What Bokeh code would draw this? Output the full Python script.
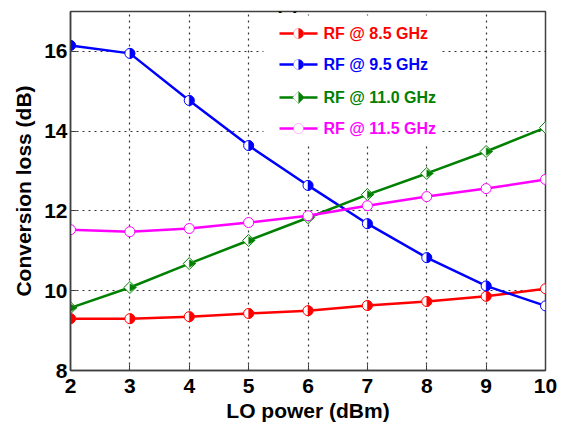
import math
from bokeh.plotting import figure
from bokeh.models import (Range1d, FixedTicker, BoxAnnotation, PolyAnnotation,
                          Label, ColumnDataSource)
from bokeh.transform import dodge
from bokeh.embed import file_html
from bokeh.resources import INLINE

# ---- data ----
lo_power = [2, 3, 4, 5, 6, 7, 8, 9, 10]
cl_8p5 = [9.30, 9.30, 9.35, 9.43, 9.50, 9.63, 9.73, 9.86, 10.05]
cl_9p5 = [16.15, 15.95, 14.77, 13.64, 12.64, 11.68, 10.83, 10.12, 9.62]
cl_11p0 = [9.57, 10.08, 10.68, 11.26, 11.83, 12.41, 12.94, 13.49, 14.09]
cl_11p5 = [11.53, 11.48, 11.56, 11.71, 11.88, 12.13, 12.36, 12.56, 12.79]
labels = ["RF @ 8.5 GHz", "RF @ 9.5 GHz", "RF @ 11.0 GHz", "RF @ 11.5 GHz"]
y_ticks = [8, 10, 12, 14, 16]
x_ticks = [2, 3, 4, 5, 6, 7, 8, 9, 10]

colors = ["#ff0000", "#0000ff", "#008000", "#ff00ff"]
markers = ["half_circle", "half_circle", "half_diamond", "open_circle"]
series = [cl_8p5, cl_9p5, cl_11p0, cl_11p5]

FONT = "Liberation Sans"
AX = "#404040"

p = figure(frame_width=475, frame_height=359,
           min_border_left=70, min_border_right=21,
           min_border_top=11, min_border_bottom=57,
           x_range=Range1d(2, 10), y_range=Range1d(8, 17),
           output_backend="svg", toolbar_location=None)
p.background_fill_color = "white"
p.border_fill_color = "white"
p.outline_line_color = AX
p.outline_line_width = 1.5

for ax in (p.xaxis[0], p.yaxis[0]):
    ax.axis_line_color = AX
    ax.axis_line_width = 1.5
    ax.major_tick_in = 6
    ax.major_tick_out = 0
    ax.minor_tick_line_color = None
    ax.major_tick_line_color = AX
    ax.major_label_text_font = FONT
    ax.major_label_text_font_style = "bold"
    ax.major_label_text_font_size = "21px"
    ax.major_label_text_color = "black"
    ax.axis_label_text_font = FONT
    ax.axis_label_text_font_style = "bold"
    ax.axis_label_text_font_size = "21px"
    ax.axis_label_text_color = "black"

p.xaxis.ticker = FixedTicker(ticks=x_ticks)
p.yaxis.ticker = FixedTicker(ticks=y_ticks)
p.xaxis.axis_label = "LO power (dBm)"
p.yaxis.axis_label = "Conversion loss (dB)"
p.xaxis.major_label_standoff = 8
p.yaxis.major_label_standoff = 3
p.xaxis.axis_label_standoff = 3
p.yaxis.axis_label_standoff = 6

p.xgrid.ticker = FixedTicker(ticks=x_ticks)
p.ygrid.ticker = FixedTicker(ticks=y_ticks)
for g in (p.xgrid[0], p.ygrid[0]):
    g.grid_line_color = "#111111"
    g.grid_line_alpha = 0.85
    g.grid_line_width = 1.2
    g.grid_line_dash = "2 4"

for vals, col, mk in zip(series, colors, markers):
    src = ColumnDataSource(dict(x=lo_power, y=vals))
    p.line("x", "y", source=src, line_color=col, line_width=2.5)
    if mk == "half_diamond":
        p.scatter("x", "y", source=src, marker="square", angle=math.pi / 4,
                  size=8.5, fill_color="white", line_color=col, line_width=1)
        p.scatter(dodge("x", 0.038, range=p.x_range), "y", source=src,
                  marker="triangle", angle=-math.pi / 2, size=7.5,
                  fill_color=col, line_color=col, line_width=0.5)
    else:
        p.scatter("x", "y", source=src, marker="circle", size=10,
                  fill_color="white", line_color=col, line_width=1)
        if mk == "half_circle":
            p.wedge("x", "y", source=src, radius=5, radius_units="screen",
                    start_angle=-math.pi / 2, end_angle=math.pi / 2,
                    fill_color=col, line_color=col, line_width=0.5)

# ---- legend, drawn as annotations in screen units (frame-relative) ----
box = BoxAnnotation(left=193, right=370, top=355, bottom=227,
                    left_units="screen", right_units="screen",
                    top_units="screen", bottom_units="screen",
                    fill_color="white", fill_alpha=1.0, line_color=None)
p.add_layout(box)

row_center = [337, 306, 273, 242]
GX, GW = 209, 38


def poly(xs, ys, **kw):
    p.add_layout(PolyAnnotation(xs=xs, ys=ys, xs_units="screen", ys_units="screen",
                                level="overlay", fill_alpha=1.0, **kw))


for lab, col, mk, cy in zip(labels, colors, markers, row_center):
    cx = GX + GW / 2
    # legend line
    poly([GX, GX + GW, GX + GW, GX], [cy - 1.25, cy - 1.25, cy + 1.25, cy + 1.25],
         fill_color=col, line_color=None)
    # legend marker
    if mk in ("half_circle", "open_circle"):
        n = 32
        full = [2 * math.pi * k / n for k in range(n)]
        poly([cx + 5 * math.cos(a) for a in full], [cy + 5 * math.sin(a) for a in full],
             fill_color="white", line_color=col, line_width=1)
        if mk == "half_circle":
            half = [-math.pi / 2 + math.pi * k / (n // 2) for k in range(n // 2 + 1)]
            poly([cx + 5 * math.cos(a) for a in half], [cy + 5 * math.sin(a) for a in half],
                 fill_color=col, line_color=col, line_width=0.5)
    else:
        poly([cx, cx + 6, cx, cx - 6], [cy + 6, cy, cy - 6, cy],
             fill_color="white", line_color=col, line_width=1)
        poly([cx, cx + 6, cx], [cy + 6, cy, cy - 6],
             fill_color=col, line_color=col, line_width=0.5)
    p.add_layout(Label(x=GX + GW + 6, y=cy, x_units="screen", y_units="screen",
                       text=lab, text_font=FONT, text_font_style="bold",
                       text_font_size="16px", text_color=col,
                       text_align="left", text_baseline="middle"))

title = Label(x=217, y=369, x_units="screen", y_units="screen", text="(a)",
              text_font=FONT, text_font_style="bold", text_font_size="20px",
              text_align="center", text_baseline="alphabetic", text_color="black")
p.add_layout(title)

open("out.html", "w").write(file_html(p, INLINE))
